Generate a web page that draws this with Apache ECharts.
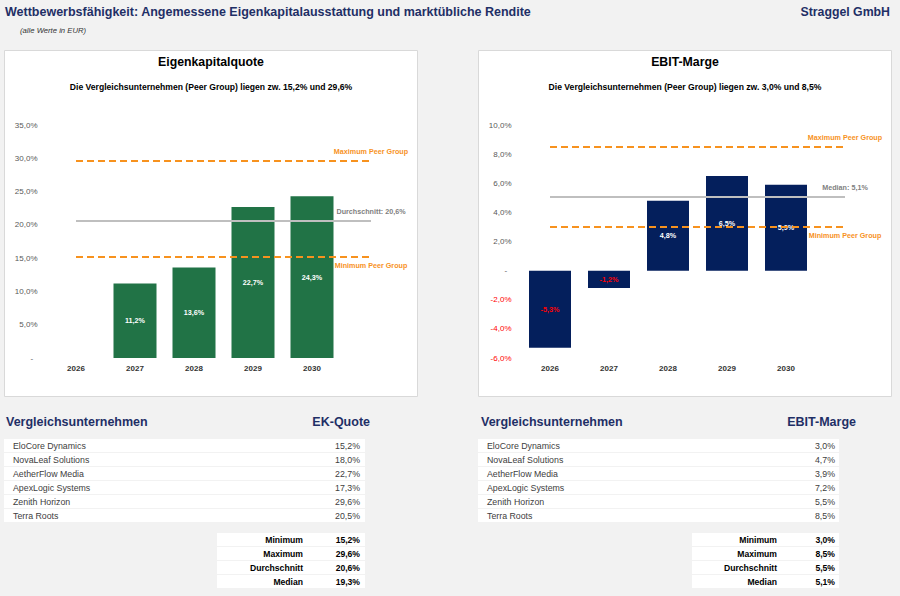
<!DOCTYPE html>
<html>
<head>
<meta charset="utf-8">
<script src="https://cdn.jsdelivr.net/npm/echarts@6/dist/echarts.min.js"></script>
<style>
  html, body { margin: 0; padding: 0; background: #f2f2f2; }
  #chart { width: 900px; height: 596px; }
</style>
</head>
<body>
<div id="chart"></div>
<script>
// Daten
const years = ['2026', '2027', '2028', '2029', '2030'];
const ekQuote = [null, 11.2, 13.6, 22.7, 24.3];
const ebitMarge = [-5.3, -1.2, 4.8, 6.5, 5.9];
const peers = ['EloCore Dynamics', 'NovaLeaf Solutions', 'AetherFlow Media', 'ApexLogic Systems', 'Zenith Horizon', 'Terra Roots'];
const peerEk = [15.2, 18.0, 22.7, 17.3, 29.6, 20.5];
const peerEbit = [3.0, 4.7, 3.9, 7.2, 5.5, 8.5];
const statNames = ['Minimum', 'Maximum', 'Durchschnitt', 'Median'];
const statEk = [15.2, 29.6, 20.6, 19.3];
const statEbit = [3.0, 8.5, 5.5, 5.1];

const FONT = "'Liberation Sans', Arial, sans-serif";
const NAVY = '#1f2f66';
const ORANGE = '#f7921e';
const RED = '#ff0000';

// x-Achse hat einen leeren Platz rechts (für Linien-Enden)
const cats = years.concat(['']);

function pct(v) {
  return v.toFixed(1).replace('.', ',') + '%';
}

function txt(x, y, text, o) {
  o = o || {};
  return {
    type: 'text', x: x, y: y, z: 10,
    style: {
      text: text,
      fill: o.color || '#333',
      fontSize: o.size || 9,
      fontWeight: o.bold ? 'bold' : 'normal',
      fontStyle: o.italic ? 'italic' : 'normal',
      fontFamily: FONT,
      align: o.align || 'left', textAlign: o.align || 'left',
      verticalAlign: 'middle', textVerticalAlign: 'middle'
    }
  };
}

function rect(x, y, w, h, fill, stroke) {
  return {
    type: 'rect', z: 0,
    shape: { x: x, y: y, width: w, height: h },
    style: { fill: fill, stroke: stroke || null, lineWidth: stroke ? 1 : 0 }
  };
}

function table(t) {
  let g = [];
  g.push(txt(t.headLeft, 422, 'Vergleichsunternehmen', { size: 12.5, bold: true, color: NAVY }));
  g.push(txt(t.headRight, 422, t.valueHead, { size: 12.5, bold: true, color: NAVY, align: 'right' }));
  peers.forEach(function (name, i) {
    let y = 439 + i * 14;
    g.push(rect(t.x, y, t.w, 13, '#fff'));
    g.push(txt(t.nameX, y + 7, name, { size: 8.8, color: '#404040' }));
    g.push(txt(t.valRight, y + 7, pct(t.values[i]), { size: 8.8, color: '#404040', align: 'right' }));
  });
  statNames.forEach(function (name, i) {
    let y = 533 + i * 14;
    g.push(rect(t.statX, y, t.x + t.w - t.statX, 13, '#fff'));
    g.push(txt(t.statLabelRight, y + 7, name, { size: 8.6, bold: true, color: '#000', align: 'right' }));
    g.push(txt(t.valRight, y + 7, pct(t.stats[i]), { size: 8.6, bold: true, color: '#000', align: 'right' }));
  });
  return g;
}

function refLines(minV, maxV, midV, midName) {
  const line = function (v, color, dashed) {
    return [
      { coord: [0, v], lineStyle: { color: color, width: 2, type: dashed ? [7, 4] : 'solid' } },
      { coord: [5, v] }
    ];
  };
  return {
    markLine: {
      silent: true,
      symbol: ['none', 'none'],
      label: { show: false },
      data: [
        line(maxV, ORANGE, true),
        line(minV, ORANGE, true),
        line(midV, '#bfbfbf', false)
      ]
    },
    markPoint: {
      silent: true,
      symbol: 'circle',
      symbolSize: 1,
      itemStyle: { color: 'rgba(0,0,0,0)' },
      label: { show: true, formatter: '{b}', fontFamily: FONT, fontSize: 7.2, fontWeight: 'bold' },
      data: [
        { name: 'Maximum Peer Group', coord: [5, maxV], label: { position: 'top', distance: 5, color: ORANGE } },
        { name: 'Minimum Peer Group', coord: [5, minV], label: { position: 'bottom', distance: 5, color: ORANGE } },
        { name: midName + ': ' + pct(midV), coord: [5, midV], label: { position: 'top', distance: 5, color: '#7f7f7f' } }
      ]
    }
  };
}

const chart = echarts.init(document.getElementById('chart'), null, { renderer: 'svg' });

const ekRefs = refLines(statEk[0], statEk[1], statEk[2], 'Durchschnitt');
const ebitRefs = refLines(statEbit[0], statEbit[1], statEbit[3], 'Median');

let graphics = [
  rect(4.5, 50.5, 413, 346, '#fff', '#d9d9d9'),
  rect(478.5, 50.5, 413, 346, '#fff', '#d9d9d9'),
  txt(5, 12, 'Wettbewerbsfähigkeit: Angemessene Eigenkapitalausstattung und marktübliche Rendite', { size: 12.5, bold: true, color: NAVY }),
  txt(890, 12, 'Straggel GmbH', { size: 12.3, bold: true, color: NAVY, align: 'right' }),
  txt(20, 30, '(alle Werte in EUR)', { size: 7.7, italic: true, color: '#333' }),
  txt(211, 62, 'Eigenkapitalquote', { size: 12.3, bold: true, color: '#000', align: 'center' }),
  txt(211, 87, 'Die Vergleichsunternehmen (Peer Group) liegen zw. ' + pct(statEk[0]) + ' und ' + pct(statEk[1]), { size: 8.6, bold: true, color: '#000', align: 'center' }),
  txt(685, 62, 'EBIT-Marge', { size: 12.3, bold: true, color: '#000', align: 'center' }),
  txt(685, 87, 'Die Vergleichsunternehmen (Peer Group) liegen zw. ' + pct(statEbit[0]) + ' und ' + pct(statEbit[1]), { size: 8.6, bold: true, color: '#000', align: 'center' })
];
graphics = graphics.concat(table({
  headLeft: 6, headRight: 370, valueHead: 'EK-Quote', x: 4, w: 361, nameX: 13, valRight: 360,
  statX: 217, statLabelRight: 303, values: peerEk, stats: statEk
}));
graphics = graphics.concat(table({
  headLeft: 481, headRight: 856, valueHead: 'EBIT-Marge', x: 478, w: 361, nameX: 487, valRight: 835,
  statX: 692, statLabelRight: 777, values: peerEbit, stats: statEbit
}));

const xAxisBase = {
  type: 'category',
  data: cats,
  position: 'bottom',
  axisLine: { show: false, onZero: false },
  axisTick: { show: false },
  axisLabel: { color: '#333', fontFamily: FONT, fontSize: 8, fontWeight: 'bold', margin: 6 }
};

const yLabel = function (v) { return v === 0 ? '-  ' : pct(v); };

chart.setOption({
  animation: false,
  backgroundColor: '#f2f2f2',
  graphic: { elements: graphics },
  grid: [
    { left: 46.5, width: 354, top: 125, height: 233 },
    { left: 520.5, width: 354, top: 125, height: 233 }
  ],
  xAxis: [
    Object.assign({ gridIndex: 0 }, xAxisBase),
    Object.assign({ gridIndex: 1 }, xAxisBase)
  ],
  yAxis: [
    {
      gridIndex: 0, type: 'value', min: 0, max: 35, interval: 5,
      splitLine: { show: false }, axisLine: { show: false }, axisTick: { show: false },
      axisLabel: { color: '#595959', fontFamily: FONT, fontSize: 8, margin: 9, formatter: yLabel }
    },
    {
      gridIndex: 1, type: 'value', min: -6, max: 10, interval: 2,
      splitLine: { show: false }, axisLine: { show: false }, axisTick: { show: false },
      axisLabel: {
        fontFamily: FONT, fontSize: 8, margin: 9, formatter: yLabel,
        color: function (v) { return Number(v) < 0 ? RED : '#595959'; }
      }
    }
  ],
  series: [
    Object.assign({
      type: 'bar', xAxisIndex: 0, yAxisIndex: 0,
      data: ekQuote,
      barWidth: 43,
      itemStyle: { color: '#217346' },
      label: {
        show: true, position: 'inside', color: '#fff', fontFamily: FONT, fontSize: 7.2, fontWeight: 'bold',
        formatter: function (p) { return pct(p.value); }
      }
    }, ekRefs),
    Object.assign({
      type: 'bar', xAxisIndex: 1, yAxisIndex: 1,
      data: ebitMarge.map(function (v) {
        return { value: v, label: { color: v < 0 ? RED : '#fff' } };
      }),
      barWidth: 42,
      itemStyle: { color: '#041f5c' },
      label: {
        show: true, position: 'inside', fontFamily: FONT, fontSize: 7.2, fontWeight: 'bold',
        formatter: function (p) { return pct(p.value); }
      }
    }, ebitRefs)
  ]
});
</script>
</body>
</html>
